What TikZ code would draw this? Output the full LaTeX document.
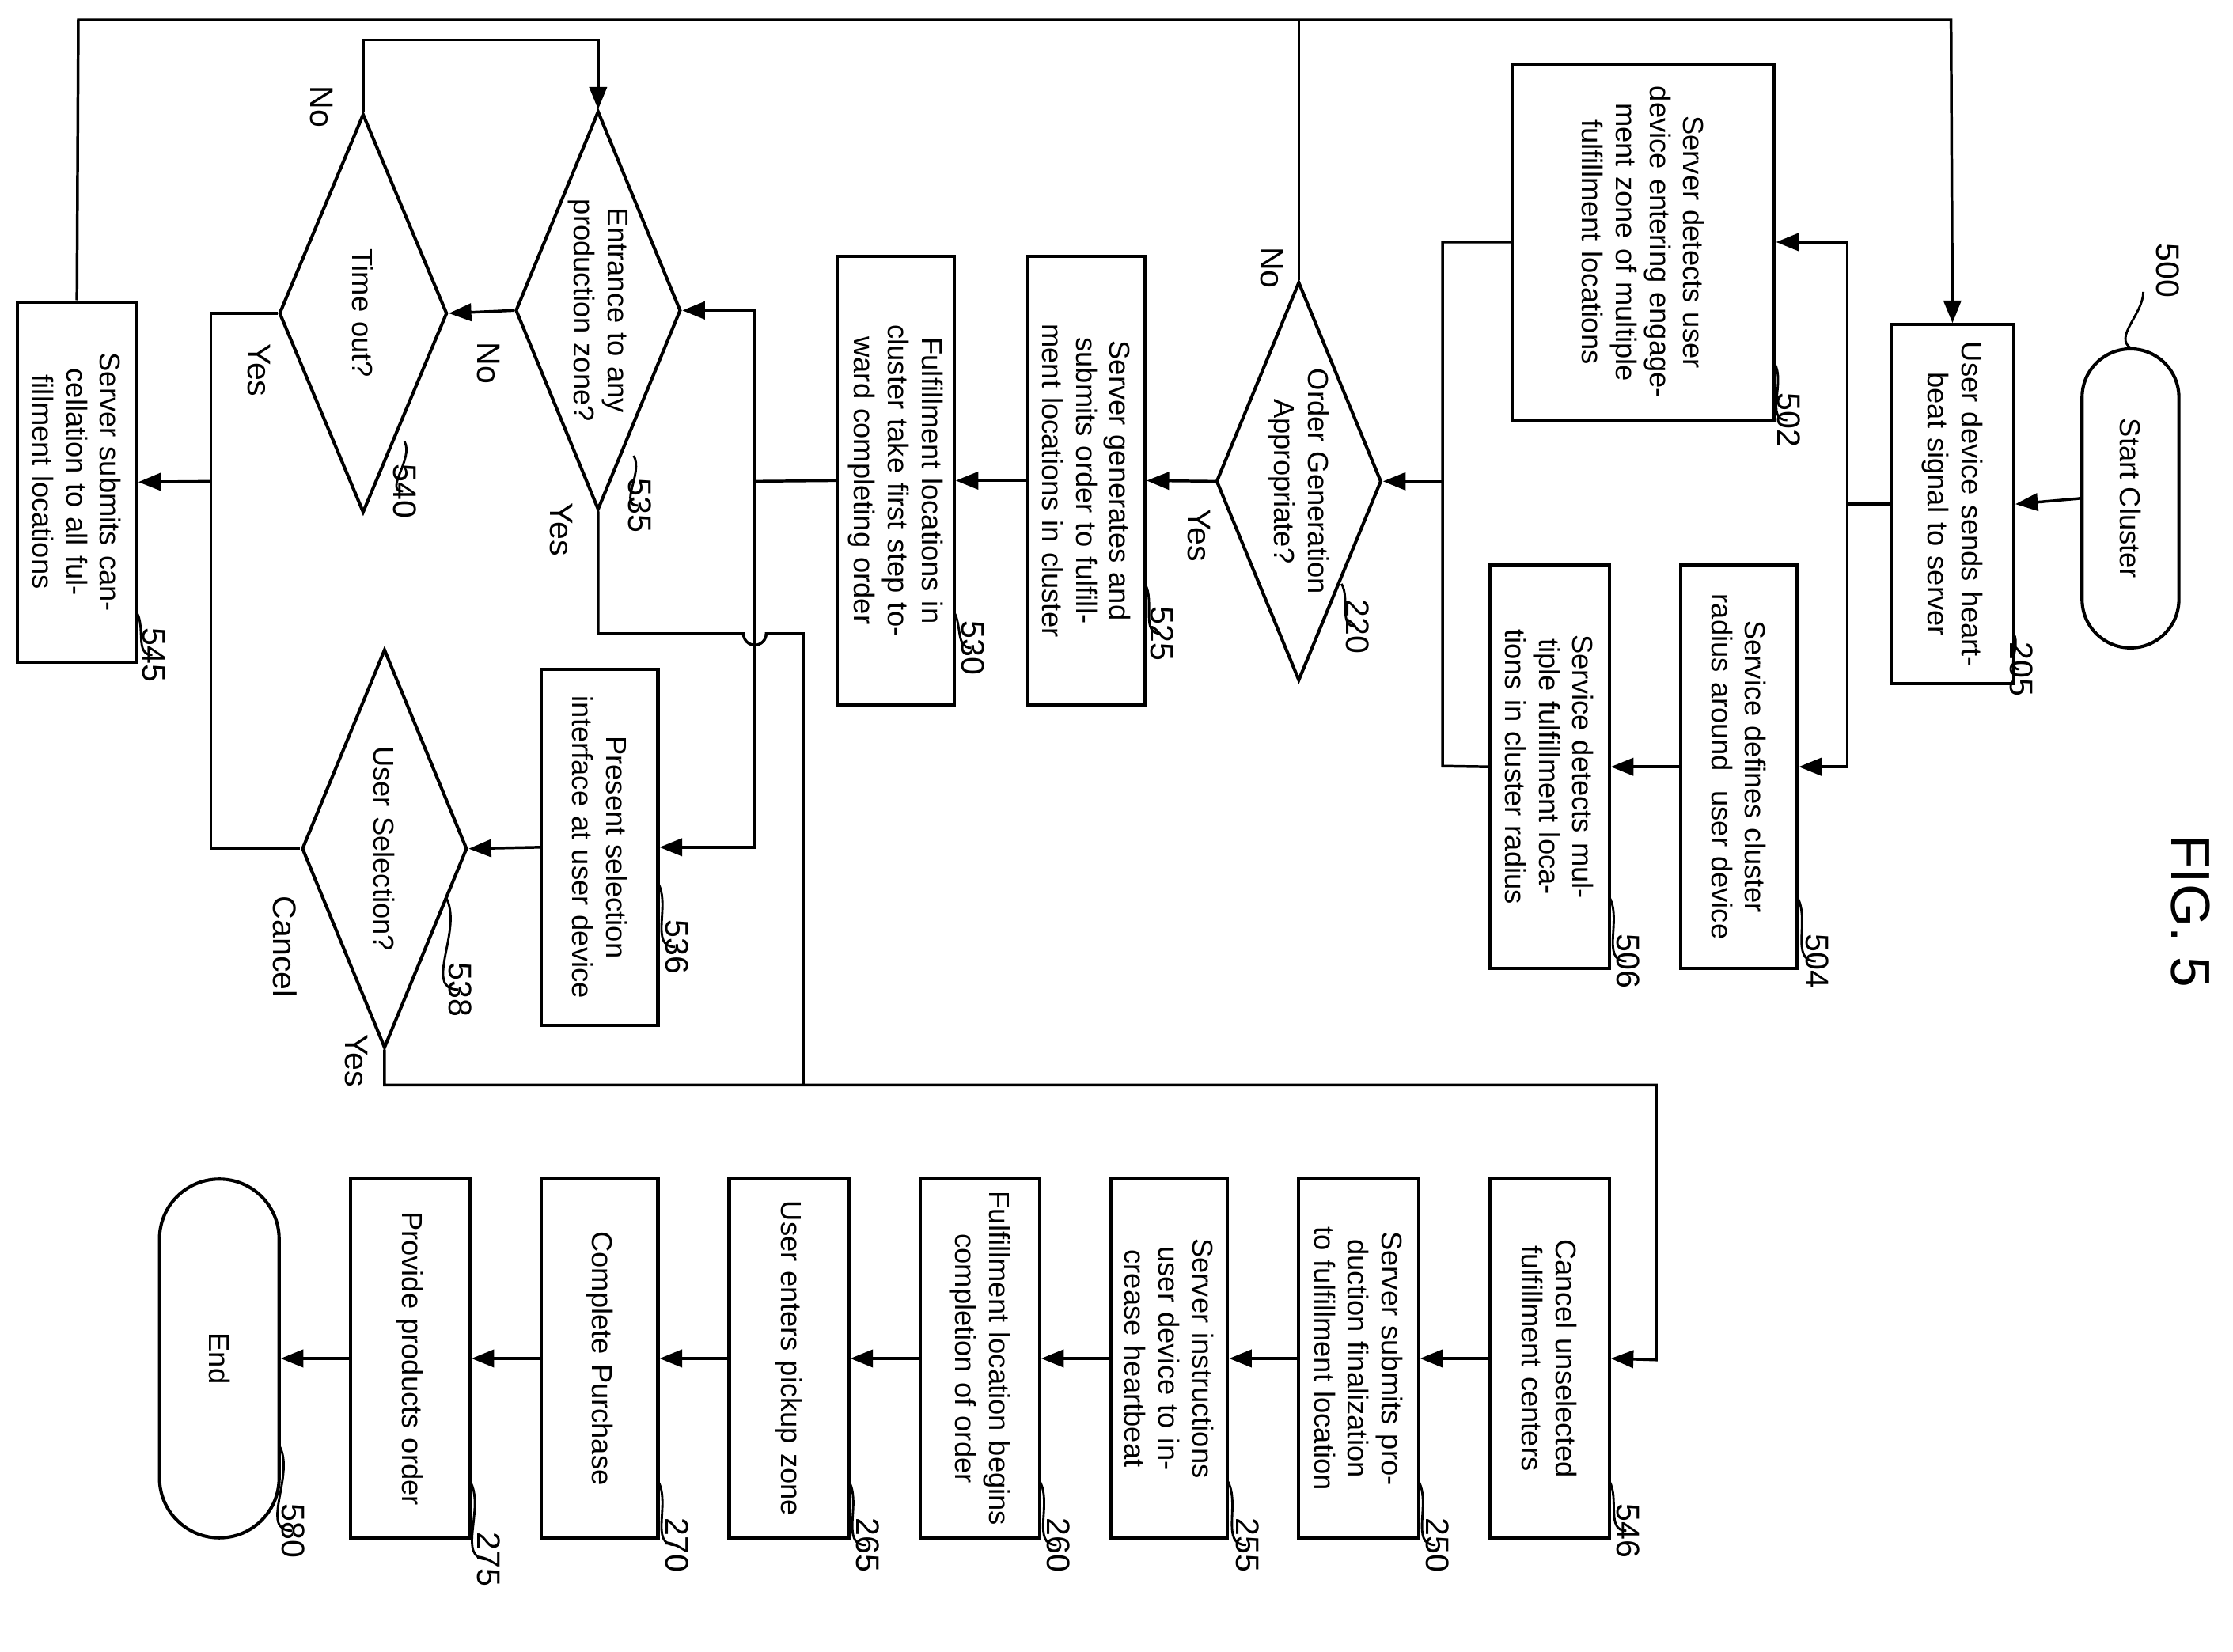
\documentclass[tikz,border=0pt]{standalone}
\usepackage{fontspec}
\setmainfont{Liberation Sans}
\usetikzlibrary{shapes.geometric,arrows.meta}
\begin{document}
\begin{tikzpicture}[x=0.02cm,y=-0.02cm,
  line width=1.1pt,
  box/.style={draw,line width=1.3pt,inner sep=0pt},
  dia/.style={draw,diamond,line width=1.3pt,inner sep=0pt},
  term/.style={draw,line width=1.3pt,inner sep=0pt},
  txt/.style={rotate=-90,align=center,inner sep=0pt,font=\fontsize{11.5}{13.5}\selectfont},
  num/.style={rotate=-90,inner sep=1pt,font=\fontsize{13}{15}\selectfont},
  arr/.style={-{Triangle[length=9pt,width=7pt]}},
  lead/.style={line width=0.9pt}]
\fill[white] (0,0) rectangle (1568,1160);
\newcommand\MyB[7]{\node[box,minimum width={(#4-#2)*0.02cm},minimum height={(#5-#3)*0.02cm}] (#1) at ({(#2+#4)/2},{(#3+#5)/2}) {};
  \node[txt,text width=#6] at (#1) {#7};}
\newcommand\MyD[5]{\node[dia,minimum width={#4*0.02cm},minimum height={280*0.02cm}] (#1) at (#2,#3) {};
  \node[txt,text width=3.6cm] at (#1) {#5};}
\newcommand\MyL[5]{\draw[lead] (#1,#2) to[out=-60,in=180] (#3,#4); \node[num,anchor=north] at (#3+12,#4) {#5};}
% terminals
\node[term,rounded corners=0.68cm,minimum width=1.36cm,minimum height=4.2cm] (start) at (1496,350) {};
\node[txt] at (start) {Start Cluster};
\node[term,rounded corners=0.84cm,minimum width=1.68cm,minimum height=5.04cm] (end) at (154,954) {};
\node[txt] at (end) {End};
% boxes
\MyB{b205}{1328}{228}{1414}{480}{4.6cm}{User device sends heartbeat signal to server}
\MyB{b502}{1062}{45}{1246}{295}{4.6cm}{Server detects user device entering engagement zone of multiple fulfillment locations}
\MyB{b504}{1180}{397}{1262}{680}{5.2cm}{Service defines cluster radius around\ \ user device}
\MyB{b506}{1046}{397}{1130}{680}{5.2cm}{Service detects multiple fulfillment locations in cluster radius}
\MyB{b525}{722}{180}{804}{495}{5.9cm}{Server generates and submits order to fulfillment locations in cluster}
\MyB{b530}{588}{180}{670}{495}{5.9cm}{Fulfillment locations in cluster take first step toward completing order}
\MyB{b545}{12}{212}{96}{465}{4.7cm}{Server submits cancellation to all fulfillment locations}
\MyB{b536}{380}{470}{462}{720}{4.6cm}{Present selection interface at user device}
\MyB{b546}{1046}{828}{1130}{1080}{4.7cm}{Cancel unselected fulfillment centers}
\MyB{b250}{912}{828}{996}{1080}{4.7cm}{Server submits production finalization to fulfillment location}
\MyB{b255}{780}{828}{862}{1080}{4.7cm}{Server instructions user device to increase heartbeat}
\MyB{b260}{646}{828}{730}{1080}{4.7cm}{Fulfillment location begins completion of order}
\MyB{b265}{512}{828}{596}{1080}{4.7cm}{User enters pickup zone}
\MyB{b270}{380}{828}{462}{1080}{4.7cm}{Complete Purchase}
\MyB{b275}{246}{828}{330}{1080}{4.7cm}{Provide products order}
% diamonds
\MyD{d220}{912}{338}{116}{Order Generation Appropriate?}
\MyD{d535}{420}{218}{116}{Entrance to any production zone?}
\MyD{d540}{255}{220}{118}{Time out?}
\MyD{d538}{270}{596}{116}{User Selection?}
% coordinates
\coordinate (t1) at (55,14); \coordinate (t2) at (1370,14);
% connectors
\draw[arr] (start.west) -- (b205.east);
\draw (b205.west) -- (1297,354);
\draw[arr] (1297,354) |- (b502.east);
\draw[arr] (1297,354) |- (b504.east);
\draw[arr] (b504.west) -- (b506.east);
\draw (b502.west) -- (1013,170) -- (1013,538) -- (b506.west);
\draw[arr] (1013,338) -- (d220.east);
\draw[arr] (d220.west) -- (b525.east);
\draw (d220.north) -- (912,14);
\draw[arr] (b545.north) -- (t1) -- (t2) -- (b205.north);
\draw[arr] (b525.west) -- (b530.east);
\draw (b530.west) -- (530,338);
\draw[arr] (530,338) |- (d535.east);
\draw[arr] (530,338) |- (b536.east);
\draw[arr] (b536.west) -- (d538.east);
\draw[arr] (d535.west) -- (d540.east);
\draw[arr] (d540.north) -- (255,28) -- (420,28) -- (d535.north);
\draw (d535.south) -- (420,445) -- (522,445) arc[start angle=180,end angle=0,radius=8] -- (564,445) -- (564,762);
\draw[arr] (d538.south) -- (270,762) -- (1163,762) -- (1163,955) -- (b546.east);
\draw (d540.west) -- (148,220) -- (148,596) -- (d538.west);
\draw[arr] (148,338) -- (b545.east);
\foreach \a/\b in {b546/b250,b250/b255,b255/b260,b260/b265,b265/b270,b270/b275,b275/end}
  \draw[arr] (\a.west) -- (\b.east);
% branch labels
\node[num] at (893,188) {No};
\node[num] at (842,376) {Yes};
\node[num] at (343,255) {No};
\node[num] at (394,372) {Yes};
\node[num] at (226,75) {No};
\node[num] at (182,260) {Yes};
\node[num] at (200,665) {Cancel};
\node[num] at (250,745) {Yes};
% reference numbers
\draw[lead] (1497,245) to[out=150,in=-90] (1505,205); \node[num] at (1522,190) {500};
\MyL{1414}{445}{1418}{470}{205}
\MyL{1246}{255}{1255}{295}{502}
\MyL{1262}{630}{1275}{675}{504}
\MyL{1130}{630}{1142}{675}{506}
\MyL{942}{410}{952}{440}{220}
\MyL{804}{410}{815}{445}{525}
\MyL{670}{430}{682}{455}{530}
\MyL{445}{320}{448}{355}{535}
\MyL{284}{310}{283}{345}{540}
\MyL{96}{430}{107}{460}{545}
\MyL{462}{620}{474}{665}{536}
\MyL{313}{630}{322}{695}{538}
\MyL{1130}{1040}{1142}{1075}{546}
\MyL{996}{1040}{1008}{1085}{250}
\MyL{862}{1040}{875}{1085}{255}
\MyL{730}{1040}{742}{1085}{260}
\MyL{596}{1040}{608}{1085}{265}
\MyL{462}{1040}{474}{1085}{270}
\MyL{330}{1040}{342}{1095}{275}
\MyL{196}{1015}{205}{1075}{580}
\node[rotate=-90,font=\fontsize{22}{26}\selectfont] at (1538,640) {FIG. 5};
\end{tikzpicture}
\end{document}
